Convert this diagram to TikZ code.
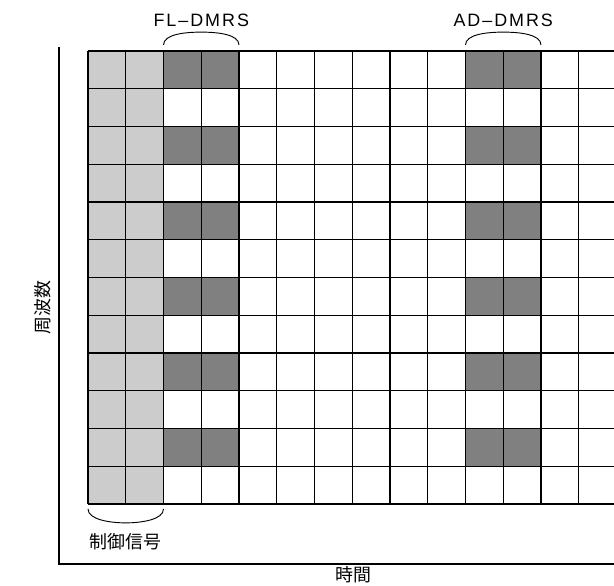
\documentclass[tikz,border=0pt]{standalone}
\usepackage{fontspec}
\setmainfont{Liberation Sans}
\newfontfamily\jpfont{Noto Sans CJK JP}
\usetikzlibrary{positioning}

\begin{document}
\begin{tikzpicture}[
    cell/.style={draw=black, line width=0.9pt},
    ctrlcell/.style={fill=black!20},
    dmrscell/.style={fill=black!50},
    axis/.style={draw=black, line width=0.8pt},
    brace/.style={draw=black, line width=0.7pt},
    label/.style={font=\fontsize{13.5}{15}\selectfont\addfontfeature{LetterSpace=11}, inner sep=0pt},
    jplabel/.style={font=\jpfont\fontsize{13.5}{15}\selectfont, inner sep=0pt},
]
\useasboundingbox (-2.331,-2.146) rectangle (13.934,13.351);

% ===== Axes =====
\coordinate (origin) at (-0.768,-1.589);
\draw[axis] (-0.768,12.106) -- (origin) -- (13.934,-1.589);
\node[jplabel, rotate=90] (freq) at (-1.19,5.2) {周波数};
\node[jplabel] (time) at (7.02,-1.88) {時間};

% ===== Resource grid =====
\fill[ctrlcell] (0,0) rectangle (2,12);
\foreach \r in {1,3,...,11} {
    \fill[dmrscell] (2,\r) rectangle (4,\r+1);
    \fill[dmrscell] (10,\r) rectangle (12,\r+1);
}
\draw[cell] (0,0) grid (14,12);

% ===== Braces =====
\coordinate (flTip) at (3,12.5);
\coordinate (adTip) at (11,12.5);
\coordinate (ctrlTip) at (1,-0.5);
\draw[brace] (2,12.16) .. controls (2,12.45) and (2.6,12.5) .. (flTip)
    .. controls (3.4,12.5) and (4,12.45) .. (4,12.16);
\draw[brace] (10,12.16) .. controls (10,12.45) and (10.6,12.5) .. (adTip)
    .. controls (11.4,12.5) and (12,12.45) .. (12,12.16);
\draw[brace] (0,-0.13) .. controls (0,-0.42) and (0.6,-0.5) .. (ctrlTip)
    .. controls (1.4,-0.5) and (2,-0.42) .. (2,-0.13);

\node[label, above=0.15cm of flTip] (fl) {FL–DMRS};
\node[label, above=0.15cm of adTip] (ad) {AD–DMRS};
\node[jplabel, below=0.27cm of ctrlTip] (ctrl) {制御信号};

\end{tikzpicture}
\end{document}
